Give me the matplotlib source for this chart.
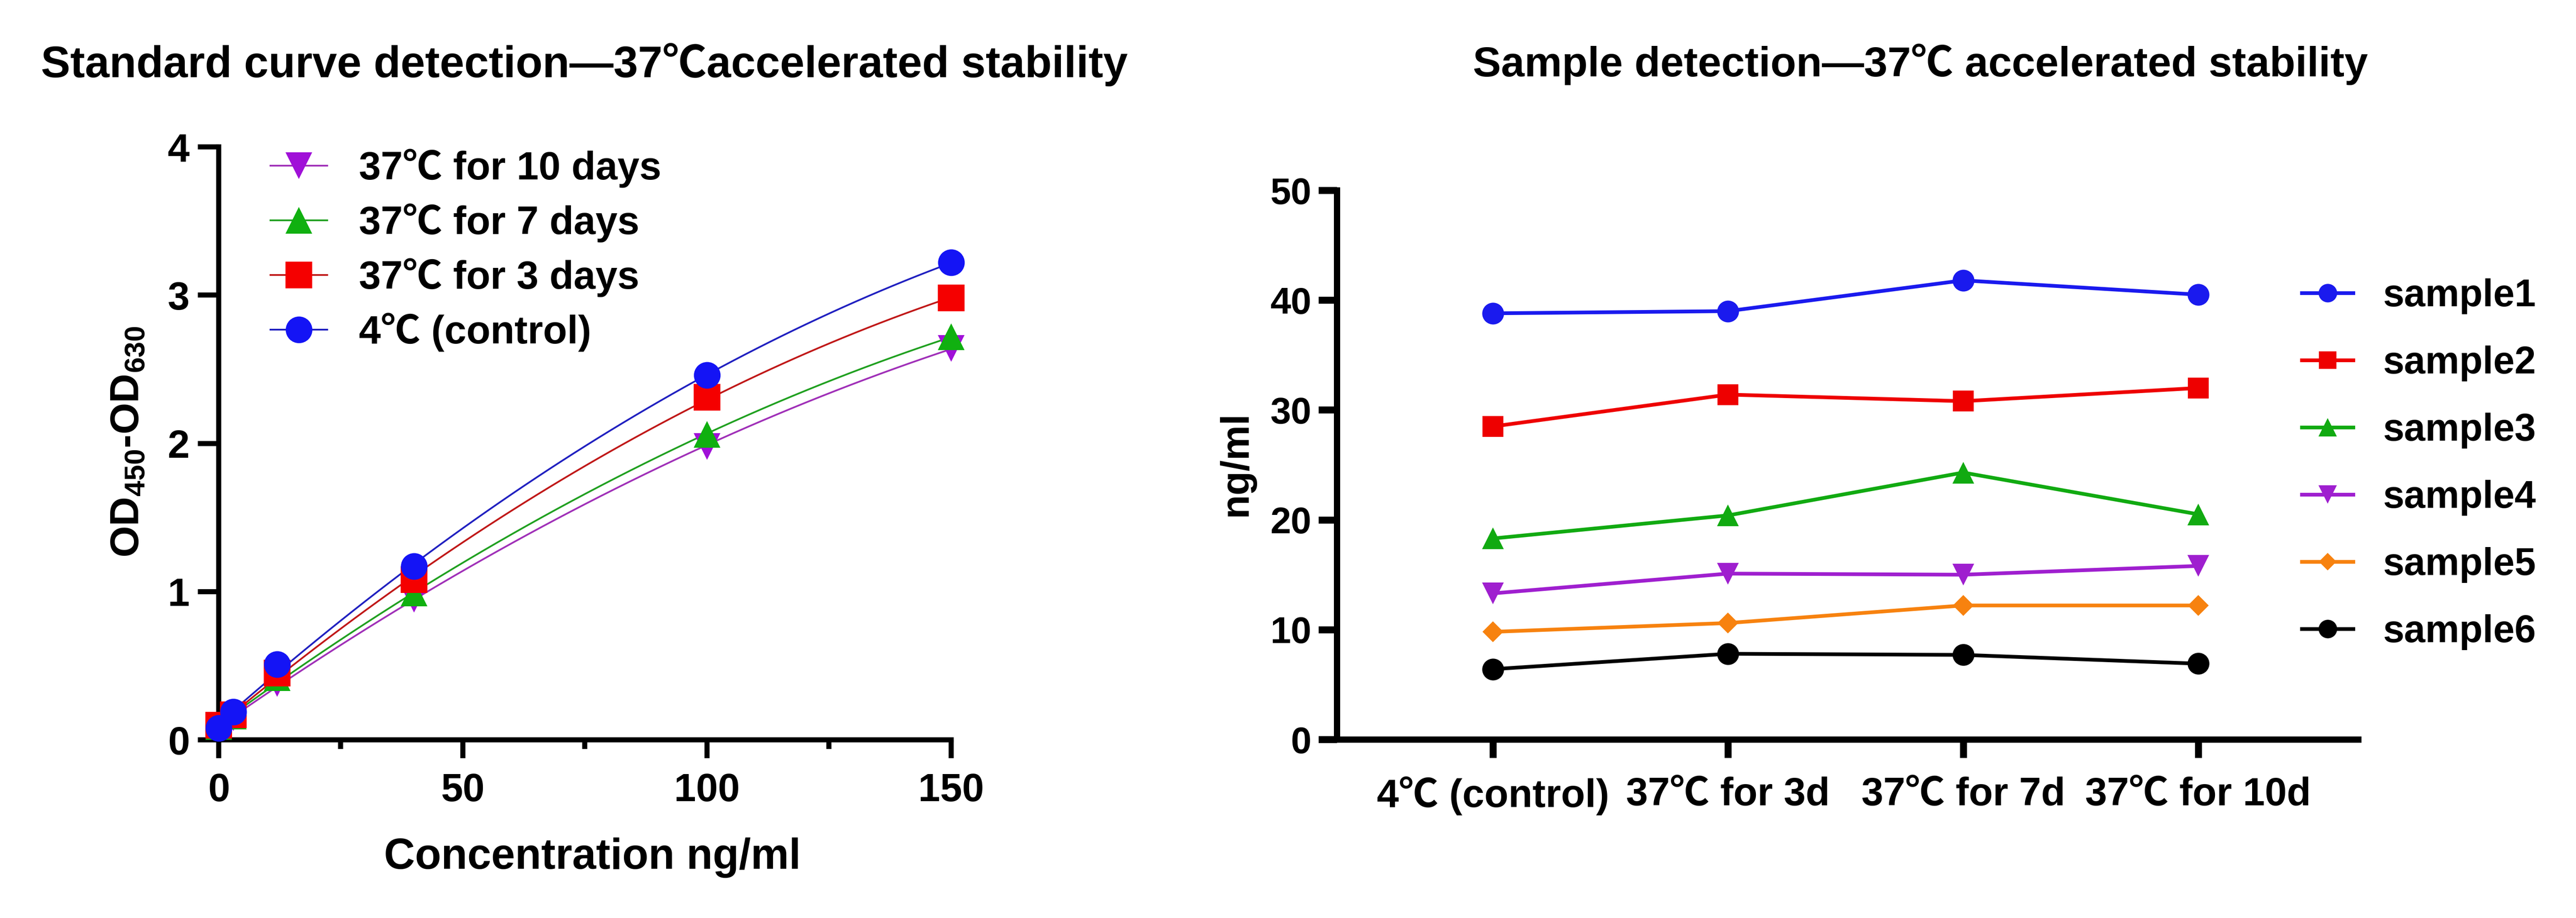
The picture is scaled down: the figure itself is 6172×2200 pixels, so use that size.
"""Stability figure: ELISA standard curves and sample readings at 37C."""

import matplotlib
matplotlib.use("Agg")
import matplotlib.pyplot as plt
import numpy as np
from matplotlib.lines import Line2D
from matplotlib.ticker import MultipleLocator

plt.rcParams["font.family"] = ["Liberation Sans", "Noto Sans CJK SC", "DejaVu Sans"]
plt.rcParams["font.weight"] = "bold"
plt.rcParams["mathtext.fontset"] = "custom"
plt.rcParams["mathtext.rm"] = "Liberation Sans"
plt.rcParams["mathtext.it"] = "Liberation Sans:italic"
plt.rcParams["mathtext.bf"] = "Liberation Sans:bold"

# standard curve data (OD450-OD630 vs ng/ml)
conc = [0, 3, 12, 40, 100, 150]
std_labels = ["37℃ for 10 days", "37℃ for 7 days", "37℃ for 3 days", "4℃ (control)"]
od_10d = [0.08, 0.15, 0.38, 0.95, 1.98, 2.64]
od_7d = [0.09, 0.16, 0.42, 0.99, 2.06, 2.72]
od_3d = [0.10, 0.17, 0.45, 1.08, 2.31, 2.98]
od_4c = [0.08, 0.19, 0.51, 1.17, 2.46, 3.22]

# sample detection data (ng/ml)
conditions = ["4℃ (control)", "37℃ for 3d", "37℃ for 7d", "37℃ for 10d"]
sample_names = ["sample1", "sample2", "sample3", "sample4", "sample5", "sample6"]
sample1 = [38.8, 39.0, 41.8, 40.5]
sample2 = [28.5, 31.4, 30.8, 32.0]
sample3 = [18.3, 20.4, 24.3, 20.5]
sample4 = [13.3, 15.1, 15.0, 15.8]
sample5 = [9.8, 10.6, 12.2, 12.2]
sample6 = [6.4, 7.8, 7.7, 6.9]

fig = plt.figure(figsize=(15.43, 5.5), dpi=400)

# ---- left: standard curves
ax1 = fig.add_axes([0.0849, 0.194, 0.2843, 0.646])
std_series = [od_10d, od_7d, od_3d, od_4c]
std_markers = ["v", "^", "s", "o"]
std_mcolors = ["#a010d8", "#10b010", "#f50000", "#1414f5"]
std_lcolors = ["#a030b8", "#20a020", "#c01818", "#2020c0"]
xs = np.linspace(0, 150, 300)
handles = []
for vals, m, mc, lc, lab in zip(std_series, std_markers, std_mcolors, std_lcolors, std_labels):
    coef = np.polyfit(conc, vals, 2)
    ax1.plot(xs, np.polyval(coef, xs), color=lc, lw=0.75, zorder=2)
    ax1.plot(conc, vals, ls="none", marker=m, ms=11.5, mfc=mc, mec=mc, mew=0,
             zorder=3, clip_on=False)
    handles.append(Line2D([], [], color=lc, lw=0.75, marker=m, ms=11.5, mfc=mc, mec=mc,
                          mew=0, label=lab))

ax1.set_xlim(0, 150)
ax1.set_ylim(0, 4)
ax1.xaxis.set_major_locator(MultipleLocator(50))
ax1.xaxis.set_minor_locator(MultipleLocator(25))
ax1.yaxis.set_major_locator(MultipleLocator(1))
for side in ("top", "right"):
    ax1.spines[side].set_visible(False)
for side in ("left", "bottom"):
    ax1.spines[side].set_linewidth(2.2)
ax1.tick_params(axis="x", which="major", length=8, width=2.2, pad=6, labelsize=17)
ax1.tick_params(axis="x", which="minor", length=4, width=2.2)
ax1.tick_params(axis="y", which="major", length=9, width=2.2, pad=3.5, labelsize=17)
for lbl in ax1.get_xticklabels() + ax1.get_yticklabels():
    lbl.set_fontweight("bold")

ax1.legend(handles=handles, loc="upper left", bbox_to_anchor=(0.105, 0.838),
           bbox_transform=fig.transFigure, frameon=False, fontsize=17,
           handlelength=1.44, handletextpad=0.8, labelspacing=0.4, borderpad=0,
           borderaxespad=0)

fig.text(0.2269, 0.9159, "Standard curve detection—37℃accelerated stability",
         ha="center", va="baseline", fontsize=19, fontweight="bold")
fig.text(0.0497, 0.519, r"OD$_{450}$-OD$_{630}$", rotation=90, ha="center",
         va="center", fontsize=17.5, fontweight="bold")
fig.text(0.2300, 0.0536, "Concentration ng/ml", ha="center", va="baseline",
         fontsize=18.5, fontweight="bold")

# ---- right: samples over storage conditions
ax2 = fig.add_axes([0.519, 0.1945, 0.3964, 0.5982])
samples = [sample1, sample2, sample3, sample4, sample5, sample6]
s_markers = ["o", "s", "^", "v", "D", "o"]
s_sizes = [9.4, 9.0, 9.2, 9.2, 6.4, 9.4]
s_colors = ["#1a1aee", "#ee0000", "#11aa11", "#9f1fcf", "#f7820f", "#000000"]
pos = np.arange(len(conditions))
for vals, m, sz, c, name in zip(samples, s_markers, s_sizes, s_colors, sample_names):
    ax2.plot(pos, vals, color=c, lw=1.6, marker=m, ms=sz, mfc=c, mec=c, mew=0,
             label=name, clip_on=False)

ax2.set_xlim(-0.664, 3.68)
ax2.set_ylim(0, 50)
ax2.set_xticks(pos)
ax2.set_xticklabels(conditions)
ax2.yaxis.set_major_locator(MultipleLocator(10))
for side in ("top", "right"):
    ax2.spines[side].set_visible(False)
for side in ("left", "bottom"):
    ax2.spines[side].set_linewidth(2.7)
ax2.tick_params(axis="x", length=8, width=3, pad=8, labelsize=17)
ax2.tick_params(axis="y", length=8, width=3, pad=3, labelsize=16)
for lbl in ax2.get_xticklabels() + ax2.get_yticklabels():
    lbl.set_fontweight("bold")

ax2.legend(loc="upper left", bbox_to_anchor=(0.8935, 0.697),
           bbox_transform=fig.transFigure, frameon=False, fontsize=16.5,
           handlelength=1.35, handletextpad=0.78, labelspacing=0.82, borderpad=0,
           borderaxespad=0, markerscale=0.85)

fig.text(0.7455, 0.917, "Sample detection—37℃ accelerated stability",
         ha="center", va="baseline", fontsize=18.2, fontweight="bold")
fig.text(0.480, 0.495, "ng/ml", rotation=90, ha="center", va="center",
         fontsize=17, fontweight="bold")

fig.savefig("out.png", dpi=400, facecolor="white")
